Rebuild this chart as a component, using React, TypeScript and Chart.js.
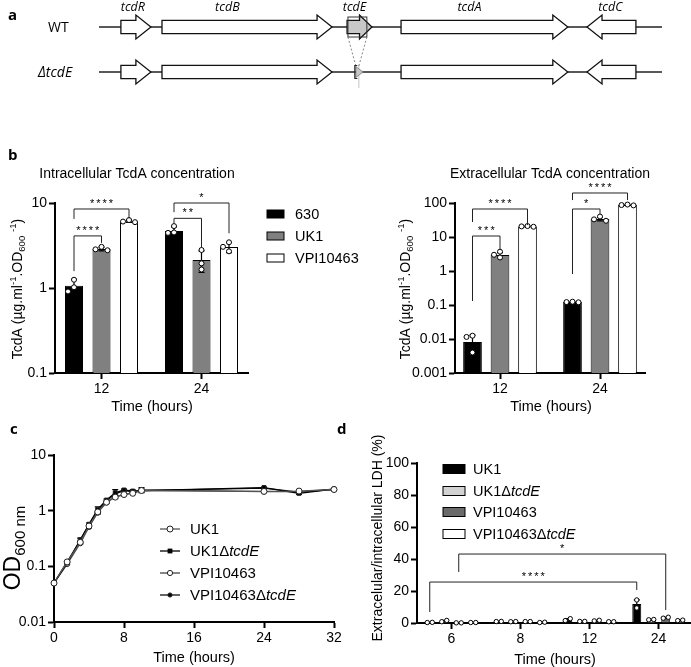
import React, { useEffect, useRef } from 'react';
import { Chart, registerables } from 'chart.js';

Chart.register(...registerables);

const SANS = '"Liberation Sans", Arial, Helvetica, sans-serif';
const CALI = '"Open Sans", "Noto Sans", sans-serif';

// ---------- Panel a : PaLoc schematic (positions in kb) ----------
const geneNames = ['tcdR', 'tcdB', 'tcdE', 'tcdA', 'tcdC'];
const geneStart = [0.73, 2.1, 8.27, 10.07, 16.27];
const geneEnd = [1.73, 7.77, 9.1, 15.63, 17.9];
const geneStrand = [1, 1, 1, 1, -1];
const geneLabelAt = [1.13, 4.28, 8.52, 12.35, 17.05];
const locusEnd = 18.77;
const deletedGene = 'tcdE';
const deletionRemnant = [8.53, 8.8];
const zoomBox = [8.3, 8.93];

// ---------- Panel b : TcdA concentrations ----------
const timesB = [12, 24];
const strainsB = ['630', 'UK1', 'VPI10463'];
const colorsB = ['#000000', '#808080', '#ffffff'];
const intra630 = [1.06, 4.68];
const intraUK1 = [2.88, 2.13];
const intraVPI = [6.1, 3.03];
const intraSD630 = [0.2, 0.55];
const intraSDUK1 = [0.14, 0.6];
const intraSDVPI = [0.18, 0.42];
const intraPts630 = [[1.25, 1.02, 0.91], [5.35, 4.5, 4.45]];
const intraPtsUK1 = [[3.05, 2.85, 2.78], [2.8, 1.95, 1.65]];
const intraPtsVPI = [[6.3, 6.05, 5.95], [3.45, 3.05, 2.7]];
const intraTicks = [0.1, 1, 10];
const intraBrackets = [
  { a: [0, 0], b: [2, 0], y: 8.5, ya: 6.5, yb: 6.6, n: 4 },
  { a: [0, 0], b: [1, 0], y: 4.1, ya: 1.58, yb: 3.4, n: 4 },
  { a: [0, 1], b: [2, 1], y: 10.0, ya: 7.8, yb: 4.4, n: 1 },
  { a: [0, 1], b: [1, 1], y: 6.6, ya: 5.8, yb: 3.0, n: 2 },
];

const extra630 = [0.0082, 0.122];
const extraUK1 = [2.95, 34];
const extraVPI = [20.5, 87];
const extraSD630 = [0.0048, 0.003];
const extraSDUK1 = [0.5, 4];
const extraSDVPI = [0.5, 2.5];
const extraPts630 = [[0.0125, 0.0115, 0.004], [0.125, 0.122, 0.12]];
const extraPtsUK1 = [[3.7, 3.0, 2.5], [40, 33, 30]];
const extraPtsVPI = [[21, 20.5, 20], [90, 87, 85]];
const extraTicks = [0.001, 0.01, 0.1, 1, 10, 100];
const extraBrackets = [
  { a: [0, 0], b: [2, 0], y: 66.6, ya: 27.6, yb: 22.5, n: 4 },
  { a: [0, 0], b: [1, 0], y: 10.7, ya: 0.131, yb: 4.15, n: 3 },
  { a: [0, 1], b: [2, 1], y: 197, ya: 122, yb: 122, n: 4 },
  { a: [0, 1], b: [1, 1], y: 66.6, ya: 0.817, yb: 47.5, n: 1 },
];

// ---------- Panel c : growth curves ----------
const growthTime = [0, 1.5, 3, 4, 5, 6, 7, 8, 9, 10, 24, 28, 32];
const odUK1 = [0.05, 0.12, 0.27, 0.53, 0.95, 1.42, 1.75, 1.95, 2.05, 2.3, 2.22, 2.25, 2.4];
const odUK1d = [0.05, 0.115, 0.3, 0.57, 1.05, 1.55, 2.1, 2.35, 2.25, 2.3, 2.6, 2.05, 2.45];
const odVPI = [0.05, 0.11, 0.26, 0.51, 0.92, 1.4, 1.78, 1.95, 2.1, 2.35, 2.2, 2.2, 2.4];
const odVPId = [0.05, 0.12, 0.29, 0.56, 1.03, 1.5, 2.0, 2.3, 2.2, 2.3, 2.55, 2.15, 2.42];
const errUK1d = [0, 0.005, 0.02, 0.03, 0.12, 0.06, 0.28, 0.08, 0.12, 0.15, 0.06, 0.1, 0.05];
const errVPI = [0, 0, 0.01, 0.02, 0.05, 0.05, 0.1, 0.05, 0.05, 0.25, 0.05, 0.05, 0.05];
const growthXTicks = [0, 8, 16, 24, 32];
const growthYTicks = [0.01, 0.1, 1, 10];

// ---------- Panel d : LDH release ----------
const timesD = ['6', '8', '12', '24'];
const colorsD = ['#000000', '#d2d2d2', '#6a6a6a', '#ffffff'];
const ldhUK1 = [0.35, 0.95, 2.1, 11.9];
const ldhUK1d = [1.2, 0.85, 1.0, 2.1];
const ldhVPI = [0.1, 0.9, 1.5, 3.3];
const ldhVPId = [0.3, 0.4, 0.8, 1.6];
const ldhSDUK1 = [0.05, 0.05, 0.6, 2.5];
const ldhSDUK1d = [0.4, 0.05, 0.05, 0.1];
const ldhSDVPI = [0, 0, 0.2, 0.3];
const ldhSDVPId = [0, 0.1, 0, 0.15];
const ldhPtsUK1 = [[0.3, 0.4], [0.9, 1.0], [1.5, 2.7], [14.4, 9.4]];
const ldhPtsUK1d = [[0.8, 1.6], [0.8, 0.9], [1.0, 1.0], [2.0, 2.2]];
const ldhPtsVPI = [[0.1, 0.1], [0.9, 0.9], [1.3, 1.7], [3.0, 3.6]];
const ldhPtsVPId = [[0.3, 0.3], [0.3, 0.5], [0.8, 0.8], [1.5, 1.8]];
const ldhTicks = [0, 20, 40, 60, 80, 100];
const ldhBrackets = [
  { a: [0, 0], b: [0, 3], y: 25.6, ya: 6.9, yb: 20.6, n: 4 },
  { a: [2, 0], b: [2, 3], y: 43.1, ya: 31.9, yb: 8.1, n: 1 },
];

type Part = { t: string; k?: 'sup' | 'sub' | 'i'; s?: number };

const deltaName = (base: string): Part[] => [{ t: base + 'Δ' }, { t: 'tcdE', k: 'i' }];
const tcdaTitle: Part[] = [
  { t: 'TcdA (µg.ml' }, { t: '-1', k: 'sup' }, { t: '.OD' }, { t: '600', k: 'sub' },
  { t: ' ' }, { t: '-1', k: 'sup' }, { t: ')' },
];

function drawRich(ctx: CanvasRenderingContext2D, parts: Part[], x: number, y: number, size: number,
  align: 'left' | 'center' = 'left', rotate = false) {
  ctx.save();
  ctx.translate(x, y);
  if (rotate) ctx.rotate(-Math.PI / 2);
  const fs = (p: Part) => p.s ?? (p.k === 'sup' || p.k === 'sub' ? size * 0.68 : size);
  const font = (p: Part) => `${p.k === 'i' ? 'italic ' : ''}${fs(p)}px ${SANS}`;
  const ws = parts.map((p) => { ctx.font = font(p); return ctx.measureText(p.t).width; });
  const total = ws.reduce((a, b) => a + b, 0);
  let cx = align === 'center' ? -total / 2 : 0;
  ctx.fillStyle = '#000';
  ctx.textAlign = 'left';
  ctx.textBaseline = 'alphabetic';
  parts.forEach((p, i) => {
    ctx.font = font(p);
    const dy = p.k === 'sup' ? -size * 0.4 : p.k === 'sub' ? size * 0.24 : 0;
    ctx.fillText(p.t, cx, dy);
    cx += ws[i];
  });
  ctx.restore();
}

function drawText(ctx: CanvasRenderingContext2D, t: string, x: number, y: number, font: string,
  align: CanvasTextAlign = 'center', base: CanvasTextBaseline = 'middle') {
  ctx.save();
  ctx.font = font;
  ctx.fillStyle = '#000';
  ctx.textAlign = align;
  ctx.textBaseline = base;
  ctx.fillText(t, x, y);
  ctx.restore();
}

function drawStars(ctx: CanvasRenderingContext2D, cx: number, baseY: number, n: number) {
  ctx.save();
  ctx.font = `11px ${SANS}`;
  ctx.fillStyle = '#000';
  ctx.textAlign = 'center';
  ctx.textBaseline = 'alphabetic';
  for (let k = 0; k < n; k++) ctx.fillText('*', cx + (k - (n - 1) / 2) * 6.3, baseY);
  ctx.restore();
}

function circle(ctx: CanvasRenderingContext2D, x: number, y: number, r: number, fill: string) {
  ctx.beginPath();
  ctx.arc(x, y, r, 0, Math.PI * 2);
  ctx.fillStyle = fill;
  ctx.fill();
  ctx.lineWidth = 1;
  ctx.strokeStyle = '#000';
  ctx.stroke();
}

function drawSwarm(ctx: CanvasRenderingContext2D, cx: number, ys: number[], r: number, step: number, pair: boolean) {
  const placed: { x: number; y: number }[] = [];
  if (pair && ys.length === 2) {
    const close = Math.abs(ys[0] - ys[1]) < 2 * r + 1;
    placed.push({ x: close ? cx - step / 2 : cx, y: ys[0] });
    placed.push({ x: close ? cx + step / 2 : cx, y: ys[1] });
  } else {
    ys.forEach((py) => {
      const cands = [0, -step, step, -2 * step, 2 * step];
      let px = cx;
      for (const c of cands) {
        if (placed.every((p) => Math.hypot(p.x - (cx + c), p.y - py) >= 2 * r + 0.6)) { px = cx + c; break; }
      }
      placed.push({ x: px, y: py });
    });
  }
  placed.forEach((p) => circle(ctx, p.x, p.y, r, '#fff'));
}

function errBar(ctx: CanvasRenderingContext2D, x: number, yTop: number, yBot: number, half: number) {
  ctx.save();
  ctx.strokeStyle = '#000';
  ctx.lineWidth = 1.2;
  ctx.beginPath();
  ctx.moveTo(x, yTop); ctx.lineTo(x, yBot);
  ctx.moveTo(x - half, yTop); ctx.lineTo(x + half, yTop);
  ctx.moveTo(x - half, yBot); ctx.lineTo(x + half, yBot);
  ctx.stroke();
  ctx.restore();
}

function geneArrow(ctx: CanvasRenderingContext2D, xs: number, xe: number, y: number, dir: number, fill: string) {
  const len = xe - xs;
  const hl = Math.min(15, len * 0.5);
  const h1 = 6.7, h2 = 12;
  ctx.beginPath();
  if (dir > 0) {
    ctx.moveTo(xs, y - h1); ctx.lineTo(xe - hl, y - h1); ctx.lineTo(xe - hl, y - h2); ctx.lineTo(xe, y);
    ctx.lineTo(xe - hl, y + h2); ctx.lineTo(xe - hl, y + h1); ctx.lineTo(xs, y + h1);
  } else {
    ctx.moveTo(xe, y - h1); ctx.lineTo(xs + hl, y - h1); ctx.lineTo(xs + hl, y - h2); ctx.lineTo(xs, y);
    ctx.lineTo(xs + hl, y + h2); ctx.lineTo(xs + hl, y + h1); ctx.lineTo(xe, y + h1);
  }
  ctx.closePath();
  ctx.fillStyle = fill;
  ctx.fill();
  ctx.lineWidth = 1.3;
  ctx.strokeStyle = '#111';
  ctx.stroke();
}

const tickFont = { family: SANS, size: 14 };
const axisGrid = (len: number) => ({
  display: true, drawOnChartArea: false, drawTicks: true, tickLength: len, tickWidth: 2, tickColor: '#000', offset: false,
});
const axisBorder = { display: true, color: '#000', width: 2 };
const fixedTicks = (arr: number[]) => (s: any) => { s.ticks = arr.map((v) => ({ value: v })); };

function makeA(canvas: HTMLCanvasElement) {
  return new Chart(canvas, {
    type: 'line',
    data: {
      datasets: [
        { data: [{ x: 0, y: 1 }, { x: locusEnd, y: 1 }], borderColor: '#222', borderWidth: 1.3, pointRadius: 0, clip: false },
        { data: [{ x: 0, y: 0 }, { x: locusEnd, y: 0 }], borderColor: '#222', borderWidth: 1.3, pointRadius: 0, clip: false },
      ],
    },
    options: {
      responsive: false, animation: false,
      layout: { padding: { left: 99, right: 29, top: 27, bottom: 23 } },
      plugins: { legend: { display: false }, tooltip: { enabled: false } },
      scales: {
        x: { type: 'linear', display: false, min: 0, max: locusEnd },
        y: { type: 'linear', display: false, min: 0, max: 1 },
      },
    },
    plugins: [{
      id: 'genes',
      afterDatasetsDraw(chart: any) {
        const ctx = chart.ctx as CanvasRenderingContext2D;
        const x = chart.scales.x, y = chart.scales.y;
        const yWT = y.getPixelForValue(1), yD = y.getPixelForValue(0);
        [yWT, yD].forEach((py, row) => {
          geneNames.forEach((g, i) => {
            if (row === 1 && g === deletedGene) return;
            geneArrow(ctx, x.getPixelForValue(geneStart[i]), x.getPixelForValue(geneEnd[i]), py, geneStrand[i],
              g === deletedGene ? '#c8c8c8' : '#fff');
          });
        });
        const bx0 = x.getPixelForValue(zoomBox[0]), bx1 = x.getPixelForValue(zoomBox[1]);
        const r0 = x.getPixelForValue(deletionRemnant[0]), r1 = x.getPixelForValue(deletionRemnant[1]);
        ctx.save();
        ctx.strokeStyle = '#333'; ctx.lineWidth = 1;
        ctx.strokeRect(bx0, yWT - 10, bx1 - bx0, 20);
        ctx.strokeStyle = '#c4c4c4';
        ctx.beginPath(); ctx.moveTo(r0 + 4, yD - 7); ctx.lineTo(r0 + 4, yD + 16); ctx.stroke();
        ctx.setLineDash([2, 2]); ctx.strokeStyle = '#666'; ctx.lineWidth = 0.8;
        ctx.beginPath();
        ctx.moveTo(bx0, yWT + 10); ctx.lineTo(r0 + 1, yD - 6);
        ctx.moveTo(bx1, yWT + 10); ctx.lineTo(r0 + 4, yD - 6);
        ctx.stroke();
        ctx.setLineDash([]);
        ctx.beginPath(); ctx.moveTo(r0 + 1, yD - 5.5); ctx.lineTo(r1, yD); ctx.lineTo(r0 + 1, yD + 5.5); ctx.closePath();
        ctx.fillStyle = '#c8c8c8'; ctx.fill(); ctx.strokeStyle = '#777'; ctx.stroke();
        ctx.strokeStyle = '#222'; ctx.lineWidth = 1.2;
        ctx.beginPath(); ctx.moveTo(r0 + 2.5, yD - 6.5); ctx.lineTo(r0, yD - 6.5); ctx.lineTo(r0, yD + 6.5); ctx.lineTo(r0 + 2.5, yD + 6.5); ctx.stroke();
        ctx.restore();
        geneNames.forEach((g, i) => drawText(ctx, g, x.getPixelForValue(geneLabelAt[i]), 11, `italic 12.5px ${CALI}`, 'center', 'alphabetic'));
        drawText(ctx, 'WT', 48, yWT + 4.7, `14px ${CALI}`, 'left', 'alphabetic');
        drawText(ctx, 'ΔtcdE', 38, yD + 4.7, `italic 14px ${CALI}`, 'left', 'alphabetic');
        drawText(ctx, 'a', 8, 20, `bold 15px ${CALI}`, 'left', 'alphabetic');
      },
    }],
  } as any);
}

function makeBars(canvas: HTMLCanvasElement, cfg: any) {
  const xTicks: any = { font: tickFont, color: '#000', padding: 2, maxRotation: 0, autoSkip: false };
  if (cfg.xs) xTicks.callback = (v: any) => String(v);
  return new Chart(canvas, {
    type: 'bar',
    data: {
      labels: cfg.categories,
      datasets: cfg.series.map((vals: number[], i: number) => ({
        label: cfg.names[i],
        data: cfg.xs ? cfg.xs.map((t: number, j: number) => ({ x: t, y: vals[j] })) : vals,
        backgroundColor: cfg.colors[i],
        borderColor: '#000',
        borderWidth: 1,
        categoryPercentage: cfg.catPct,
        barPercentage: cfg.barPct,
      })),
    },
    options: {
      responsive: false, animation: false,
      layout: { padding: cfg.padding },
      plugins: { legend: { display: false }, tooltip: { enabled: false } },
      scales: {
        x: {
          ...cfg.xScale,
          afterFit: (s: any) => { s.height = cfg.xHeight; },
          ticks: xTicks,
          grid: axisGrid(6),
          border: axisBorder,
        },
        y: {
          ...cfg.yScale,
          afterFit: (s: any) => { s.width = cfg.yWidth; },
          ticks: { font: tickFont, color: '#000', padding: 2, autoSkip: false, callback: (v: any) => String(v) },
          grid: axisGrid(6),
          border: axisBorder,
        },
      },
    },
    plugins: [{
      id: 'extras',
      afterDatasetsDraw(chart: any) {
        const ctx = chart.ctx as CanvasRenderingContext2D;
        const y = chart.scales.y;
        const yMin = y.min;
        cfg.series.forEach((vals: number[], i: number) => {
          const meta = chart.getDatasetMeta(i);
          meta.data.forEach((el: any, j: number) => {
            const m = vals[j], sd = cfg.sds[i][j];
            if (sd > 0) {
              errBar(ctx, el.x, y.getPixelForValue(m + sd), y.getPixelForValue(Math.max(m - sd, yMin)), 3);
            }
            drawSwarm(ctx, el.x, cfg.pts[i][j].map((v: number) => y.getPixelForValue(v)), cfg.r, cfg.step, cfg.pair);
          });
        });
        cfg.brackets.forEach((b: any) => {
          const xa = chart.getDatasetMeta(b.a[0]).data[b.a[1]].x;
          const xb = chart.getDatasetMeta(b.b[0]).data[b.b[1]].x;
          const yl = y.getPixelForValue(b.y);
          ctx.save();
          ctx.strokeStyle = '#222'; ctx.lineWidth = 1;
          ctx.beginPath();
          ctx.moveTo(xa, y.getPixelForValue(b.ya)); ctx.lineTo(xa, yl); ctx.lineTo(xb, yl); ctx.lineTo(xb, y.getPixelForValue(b.yb));
          ctx.stroke();
          ctx.restore();
          drawStars(ctx, (xa + xb) / 2, yl - 2, b.n);
        });
      },
      afterDraw(chart: any) { cfg.decor(chart.ctx, chart); },
    }],
  } as any);
}

function boxLegend(ctx: CanvasRenderingContext2D, x: number, ys: number[], w: number, h: number, colors: string[],
  labels: Part[][], tx: number, size: number) {
  ys.forEach((yy, i) => {
    ctx.save();
    ctx.fillStyle = colors[i];
    ctx.fillRect(x, yy - h / 2, w, h);
    ctx.strokeStyle = '#000'; ctx.lineWidth = 1;
    ctx.strokeRect(x, yy - h / 2, w, h);
    ctx.restore();
    drawRich(ctx, labels[i], tx, yy + size * 0.36, size);
  });
}

function makeC(canvas: HTMLCanvasElement) {
  const series = [odUK1, odUK1d, odVPI, odVPId];
  const errs = [null, errUK1d, errVPI, null];
  const names = ['UK1', 'UK1ΔtcdE', 'VPI10463', 'VPI10463ΔtcdE'];
  const lineCol = ['#555', '#000', '#444', '#111'];
  const pStyle = ['circle', 'rect', 'circle', 'circle'];
  const pRad = [3, 2.8, 2.6, 2.1];
  const pFill = ['#fff', '#000', '#fff', '#000'];
  const legendParts: Part[][] = [[{ t: 'UK1' }], deltaName('UK1'), [{ t: 'VPI10463' }], deltaName('VPI10463')];
  return new Chart(canvas, {
    type: 'line',
    data: {
      datasets: series.map((vals, i) => ({
        label: names[i],
        data: growthTime.map((t, j) => ({ x: t, y: vals[j] })),
        borderColor: lineCol[i], borderWidth: 1.3, tension: 0,
        pointStyle: pStyle[i], pointRadius: pRad[i], pointBackgroundColor: pFill[i], pointBorderColor: '#222', pointBorderWidth: 1,
        clip: false,
      })),
    },
    options: {
      responsive: false, animation: false,
      layout: { padding: { left: 0, right: 16, top: 35, bottom: 0 } },
      plugins: { legend: { display: false }, tooltip: { enabled: false } },
      scales: {
        x: {
          type: 'linear', min: 0, max: 32, offset: false,
          afterBuildTicks: fixedTicks(growthXTicks),
          afterFit: (s: any) => { s.height = 45; },
          ticks: { font: tickFont, color: '#000', padding: 2, maxRotation: 0, autoSkip: false },
          grid: axisGrid(6), border: axisBorder,
        },
        y: {
          type: 'logarithmic', min: 0.01, max: 10,
          afterBuildTicks: fixedTicks(growthYTicks),
          afterFit: (s: any) => { s.width = 54; },
          ticks: { font: tickFont, color: '#000', padding: 2, autoSkip: false, callback: (v: any) => String(v) },
          grid: axisGrid(6), border: axisBorder,
        },
      },
    },
    plugins: [{
      id: 'growthExtras',
      beforeDatasetsDraw(chart: any) {
        const ctx = chart.ctx as CanvasRenderingContext2D;
        const x = chart.scales.x, y = chart.scales.y;
        errs.forEach((e, i) => {
          if (!e) return;
          e.forEach((v, j) => {
            if (v <= 0) return;
            const m = series[i][j];
            errBar(ctx, x.getPixelForValue(growthTime[j]), y.getPixelForValue(m + v), y.getPixelForValue(m - v), 3);
          });
        });
      },
      afterDraw(chart: any) {
        const ctx = chart.ctx as CanvasRenderingContext2D;
        const rows = [109, 131, 153, 175];
        rows.forEach((yy, i) => {
          ctx.save();
          ctx.strokeStyle = lineCol[i]; ctx.lineWidth = 1.3;
          ctx.beginPath(); ctx.moveTo(160, yy); ctx.lineTo(180, yy); ctx.stroke();
          if (pStyle[i] === 'rect') {
            ctx.fillStyle = '#000'; ctx.fillRect(170 - 2.4, yy - 2.4, 4.8, 4.8);
          } else {
            ctx.beginPath(); ctx.arc(170, yy, pRad[i], 0, Math.PI * 2); ctx.fillStyle = pFill[i]; ctx.fill();
            ctx.lineWidth = 1; ctx.strokeStyle = '#222'; ctx.stroke();
          }
          ctx.restore();
          drawRich(ctx, legendParts[i], 190, yy + 15 * 0.36, 15);
        });
        drawText(ctx, 'Time (hours)', 194, 238, `14.5px ${SANS}`);
        drawRich(ctx, [{ t: 'OD', s: 23 }, { t: '600 nm', k: 'sub', s: 15 }], 20, 128, 22, 'center', true);
        drawText(ctx, 'c', 10, 14, `bold 15px ${CALI}`, 'left', 'alphabetic');
        drawText(ctx, 'd', 337, 14, `bold 15px ${CALI}`, 'left', 'alphabetic');
      },
    }],
  } as any);
}

export default function App() {
  const refA = useRef<HTMLCanvasElement>(null);
  const refB1 = useRef<HTMLCanvasElement>(null);
  const refB2 = useRef<HTMLCanvasElement>(null);
  const refC = useRef<HTMLCanvasElement>(null);
  const refD = useRef<HTMLCanvasElement>(null);

  useEffect(() => {
    const legendB: Part[][] = strainsB.map((s) => [{ t: s }]);
    const charts: Chart[] = [];
    charts.push(makeA(refA.current!));
    charts.push(makeBars(refB1.current!, {
      xs: timesB, categories: undefined,
      series: [intra630, intraUK1, intraVPI], sds: [intraSD630, intraSDUK1, intraSDVPI],
      pts: [intraPts630, intraPtsUK1, intraPtsVPI], names: strainsB, colors: colorsB,
      catPct: 0.825, barPct: 0.655, r: 2.5, step: 6, pair: false,
      padding: { left: 0, right: 122, top: 63, bottom: 0 }, yWidth: 55, xHeight: 47,
      xScale: { type: 'linear', min: 6.42, max: 29.58, offset: false, afterBuildTicks: fixedTicks(timesB) },
      yScale: { type: 'logarithmic', min: 0.1, max: 10, afterBuildTicks: fixedTicks(intraTicks) },
      brackets: intraBrackets,
      decor: (ctx: CanvasRenderingContext2D) => {
        drawText(ctx, 'b', 8, 20, `bold 15px ${CALI}`, 'left', 'alphabetic');
        drawText(ctx, 'Intracellular TcdA concentration', 137, 34, `14px ${SANS}`);
        boxLegend(ctx, 267, [74, 96, 118], 17, 8, colorsB, legendB, 295, 14.5);
        drawText(ctx, 'Time (hours)', 152, 267, `14.5px ${SANS}`);
        drawRich(ctx, tcdaTitle, 22, 149, 14, 'center', true);
      },
    }));
    charts.push(makeBars(refB2.current!, {
      xs: timesB, categories: undefined,
      series: [extra630, extraUK1, extraVPI], sds: [extraSD630, extraSDUK1, extraSDVPI],
      pts: [extraPts630, extraPtsUK1, extraPtsVPI], names: strainsB, colors: colorsB,
      catPct: 0.825, barPct: 0.68, r: 2.5, step: 6, pair: false,
      padding: { left: 0, right: 46, top: 63, bottom: 0 }, yWidth: 105, xHeight: 47,
      xScale: { type: 'linear', min: 6.6, max: 29.4, offset: false, afterBuildTicks: fixedTicks(timesB) },
      yScale: { type: 'logarithmic', min: 0.001, max: 100, afterBuildTicks: fixedTicks(extraTicks) },
      brackets: extraBrackets,
      decor: (ctx: CanvasRenderingContext2D) => {
        drawText(ctx, 'Extracellular TcdA concentration', 200, 34, `14px ${SANS}`);
        drawText(ctx, 'Time (hours)', 201, 267, `14.5px ${SANS}`);
        drawRich(ctx, tcdaTitle, 60, 149, 14, 'center', true);
      },
    }));
    charts.push(makeC(refC.current!));
    const legendD: Part[][] = [[{ t: 'UK1' }], deltaName('UK1'), [{ t: 'VPI10463' }], deltaName('VPI10463')];
    charts.push(makeBars(refD.current!, {
      xs: null, categories: timesD,
      series: [ldhUK1, ldhUK1d, ldhVPI, ldhVPId], sds: [ldhSDUK1, ldhSDUK1d, ldhSDVPI, ldhSDVPId],
      pts: [ldhPtsUK1, ldhPtsUK1d, ldhPtsVPI, ldhPtsVPId], names: ['UK1', 'UK1ΔtcdE', 'VPI10463', 'VPI10463ΔtcdE'],
      colors: colorsD, catPct: 0.84, barPct: 0.62, r: 2.2, step: 5, pair: true,
      padding: { left: 0, right: 3, top: 43, bottom: 0 }, yWidth: 77, xHeight: 44,
      xScale: { type: 'category', offset: true },
      yScale: { type: 'linear', min: 0, max: 100, afterBuildTicks: fixedTicks(ldhTicks) },
      brackets: ldhBrackets,
      decor: (ctx: CanvasRenderingContext2D) => {
        boxLegend(ctx, 103, [49, 71, 92, 114], 22, 9, colorsD, legendD, 133, 14.5);
        drawText(ctx, 'Time (hours)', 215, 240, `14.5px ${SANS}`);
        drawRich(ctx, [{ t: 'Extracelular/intracellular LDH (%)' }], 42, 118, 14, 'center', true);
      },
    }));
    return () => charts.forEach((c) => c.destroy());
  }, []);

  const abs = (l: number, t: number, w: number, h: number): React.CSSProperties => ({
    position: 'absolute', left: l, top: t, width: w, height: h,
  });

  return (
    <div style={{ position: 'absolute', left: 0, top: 0, width: 691, height: 667, overflow: 'hidden', background: '#fff' }}>
      <canvas ref={refA} width={691} height={95} style={abs(0, 0, 691, 95)} />
      <canvas ref={refB1} width={370} height={280} style={abs(0, 140, 370, 280)} />
      <canvas ref={refB2} width={341} height={280} style={abs(350, 140, 341, 280)} />
      <canvas ref={refC} width={350} height={247} style={abs(0, 420, 350, 247)} />
      <canvas ref={refD} width={356} height={247} style={abs(340, 420, 356, 247)} />
    </div>
  );
}
